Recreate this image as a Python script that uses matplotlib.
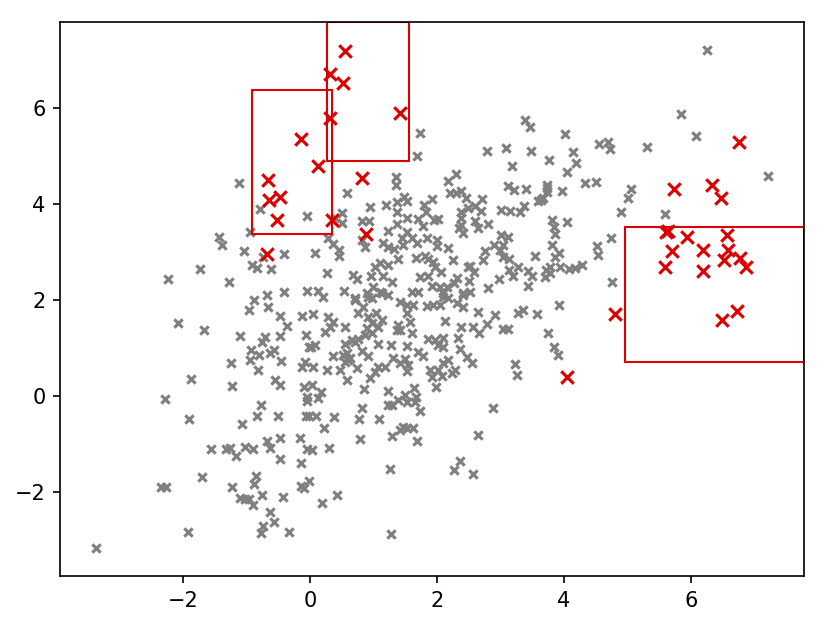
import matplotlib
matplotlib.use("Agg")
import matplotlib.pyplot as plt
from matplotlib.patches import Rectangle

gray_x = [
    -0.79, -0.05, -0.94, -1.43, -1.39, -1.04, -0.74, -0.41, -0.91, -0.83, -0.61, -1.73, -2.24, -1.28, -0.68, -0.41,
    -0.05, -0.88, -0.66, -0.96, -0.47, -0.13, -0.36, -2.08, -1.67, -1.10, -0.71, -0.76, -0.47, -0.06, -0.02, -0.93,
    -0.57, -0.63, -0.80, -0.94, -1.24, -0.46, -0.08, -0.13, -0.82, -1.87, -0.55, -0.47, -1.23, -0.09, -2.28, -0.05,
    -1.91, -0.77, -0.83, -0.50, -1.07, -0.05, -0.06, -0.02, -0.47, -0.68, -0.16, -1.56, -1.32, -1.26, -1.17, -1.02,
    -0.90, -0.63, -0.05, -0.47, -0.14, -1.70, -0.85, -0.88, -2.35, -2.27, -1.23, -0.14, -0.09, -0.02, -0.76, -0.43,
    -1.10, -1.02, -0.96, -0.90, -0.63, -0.57, -0.74, -0.77, -0.33, -1.92, -3.37,
    1.35, 1.35, 2.30, 2.17, 0.58, 2.20, 2.30, 2.38, 2.46, 1.48, 1.53, 1.37, 1.92, 1.20, 0.94, 1.80,
    1.83, 1.37, 0.50, 0.39, 0.50, 0.82, 0.93, 1.53, 1.70, 2.02, 1.95, 1.78, 1.37, 2.38, 2.38, 2.38,
    2.35, 2.41, 1.23, 1.53, 0.28, 0.36, 0.46, 0.46, 0.82, 0.87, 1.15, 1.23, 1.32, 1.45, 1.46, 1.61,
    1.69, 1.84, 2.00, 2.00, 2.17, 0.08, 1.39, 1.67, 1.81, 1.86, 1.94, 2.25, 1.97, 2.06, 1.10, 1.02,
    1.23, 0.27, 0.68, 0.74, 0.96, 1.15, 1.29, 1.73, 1.86, 2.31, 2.27, 2.49, 0.13, 0.20, 0.54, 0.99,
    0.90, 1.10, 1.61, 1.70, 1.92, 2.05, 2.16, 2.09, 2.41, 2.52, 0.71, 0.98,
    0.71, 0.83, 0.76, 0.91, 1.13, 1.23, 1.42, 1.53, 1.62, 1.53, 1.57, 1.84, 1.94, 2.05, 2.09, 2.17,
    2.31, 2.41, 2.41, 0.05, 0.28, 0.36, 0.31, 0.24, 0.55, 0.08, 0.02, 1.04, 0.91, 1.13, 0.98, 1.07,
    0.90, 0.98, 0.87, 0.76, 0.66, 0.71, 0.55, 1.07, 1.39, 1.42, 1.37, 1.61, 2.13, 2.38, 1.28, 1.53,
    1.86, 1.97, 2.09, 2.02, 2.09, 2.33, 2.36, 2.47, 1.70, 1.78, 0.82, 0.91, 1.31, 1.42, 1.50, 1.54,
    1.53, 0.58, 0.52, 0.63, 0.55, 0.60, 0.36, 0.05, 0.27, 0.47, 0.74, 1.18, 1.07, 1.02, 0.94, 0.58,
    1.89, 1.92, 2.17, 2.09, 2.02, 2.08, 2.28, 2.24, 0.03, 0.17, 0.13, 0.85, 1.23, 1.64, 1.98, 1.50,
    1.67, 1.39, 1.53, 1.65, 1.23, 1.29, 0.82, 1.73, 0.09, 0.38, 0.77, 1.09,
    0.22, 0.79, 1.29, 1.42, 1.46, 1.53, 1.62, 1.69, 2.65, 2.88, 0.03, 0.30, 1.26, 2.36, 2.27, 2.57,
    0.43, 0.19, 1.28,
    3.39, 3.46, 4.02, 2.79, 3.09, 3.48, 4.14, 3.76, 4.19, 3.18, 4.05, 4.55, 4.69, 4.72, 5.31, 4.33,
    4.50, 5.06, 5.01, 4.90, 3.12, 3.21, 3.40, 3.73, 3.73, 3.73, 3.97, 3.64, 3.59, 3.67, 2.71, 2.49,
    2.60, 2.69, 3.01, 3.15, 3.37, 3.31, 3.81, 4.05, 2.80, 2.60, 2.65, 3.84, 3.86, 3.01, 3.12, 3.81,
    4.74, 4.52, 4.54, 2.90, 3.04, 2.76, 2.99, 3.04, 3.13, 2.72, 3.54, 3.92, 3.86, 2.52, 2.58, 2.50,
    3.28, 3.13, 3.20, 2.98, 3.43, 3.50, 3.43, 2.80, 3.72, 3.78, 3.70, 3.78, 3.94, 4.08, 4.17, 4.28,
    4.76,
    3.92, 2.65, 2.91, 3.28, 3.35, 3.57, 2.57, 2.79, 2.66, 3.04, 3.12, 3.75, 3.84, 3.91, 2.55, 3.23,
    3.26,
    6.25, 5.84, 6.08, 7.21, 5.59, 1.73, 1.69, -1.12,
]
gray_y = [
    3.89, 3.74, 3.41, 3.31, 3.14, 3.01, 2.89, 2.95, 2.72, 2.66, 2.64, 2.64, 2.43, 2.37, 2.10, 2.16,
    2.18, 2.00, 1.85, 1.79, 1.66, 1.66, 1.46, 1.52, 1.37, 1.25, 1.23, 1.12, 1.25, 1.27, 1.02, 0.96,
    0.96, 0.89, 0.85, 0.75, 0.69, 0.73, 0.71, 0.60, 0.54, 0.35, 0.33, 0.23, 0.21, 0.19, -0.06, -0.02,
    -0.48, -0.19, -0.42, -0.42, -0.58, -0.10, -0.42, -0.42, -0.87, -0.94, -0.87, -1.10, -1.10, -1.08, -1.25, -1.06,
    -1.10, -1.08, -1.10, -1.31, -1.39, -1.68, -1.66, -1.83, -1.89, -1.89, -1.89, -1.87, -1.91, -1.77, -2.06, -2.10,
    -2.12, -2.14, -2.14, -2.27, -2.41, -2.62, -2.70, -2.85, -2.83, -2.83, -3.16,
    4.55, 4.39, 4.62, 4.47, 4.22, 4.22, 4.22, 4.26, 4.12, 4.14, 4.05, 4.03, 4.10, 3.97, 3.93, 3.97,
    3.83, 3.83, 3.80, 3.70, 3.60, 3.64, 3.64, 3.70, 3.68, 3.68, 3.66, 3.53, 3.58, 3.83, 3.70, 3.56,
    3.49, 3.39, 3.43, 3.41, 3.28, 3.16, 3.04, 2.91, 3.24, 3.10, 3.18, 3.10, 3.06, 3.28, 3.14, 3.28,
    3.18, 3.28, 3.24, 3.12, 3.08, 2.97, 2.85, 2.87, 2.91, 2.85, 2.79, 2.83, 2.68, 2.58, 2.77, 2.68,
    2.72, 2.56, 2.52, 2.43, 2.49, 2.49, 2.37, 2.47, 2.49, 2.45, 2.35, 2.68, 2.18, 2.06, 2.18, 2.27,
    2.14, 2.16, 2.16, 2.16, 2.29, 2.27, 2.27, 2.14, 2.14, 2.16, 2.04, 2.04,
    2.00, 1.85, 1.73, 2.06, 2.14, 2.10, 1.95, 1.89, 1.89, 1.73, 1.54, 1.87, 1.89, 1.89, 2.06, 2.04,
    1.93, 1.85, 2.10, 1.70, 1.64, 1.54, 1.43, 1.33, 1.43, 1.06, 1.02, 1.73, 1.64, 1.58, 1.52, 1.43,
    1.41, 1.31, 1.27, 1.19, 1.16, 1.12, 1.08, 1.08, 1.48, 1.37, 1.37, 1.31, 1.56, 1.43, 1.06, 1.04,
    1.19, 1.16, 1.21, 1.06, 1.02, 1.21, 0.98, 0.81, 0.91, 0.83, 0.94, 0.83, 0.79, 0.69, 0.77, 0.64,
    0.52, 0.89, 0.85, 0.79, 0.71, 0.75, 0.83, 0.60, 0.54, 0.54, 0.58, 0.60, 0.60, 0.50, 0.37, 0.33,
    0.54, 0.40, 0.75, 0.69, 0.54, 0.42, 0.54, 0.48, 0.23, 0.08, -0.04, 0.15, 0.10, 0.17, 0.19, 0.02,
    -0.02, -0.08, -0.12, -0.12, -0.19, -0.19, -0.25, -0.31, -0.42, -0.44, -0.48, -0.48,
    -0.67, -0.89, -0.83, -0.71, -0.64, -0.67, -0.67, -0.94, -0.81, -0.25, -1.12, -1.08, -1.52, -1.35, -1.54, -1.62,
    -2.06, -2.22, -2.87,
    5.74, 5.59, 5.45, 5.09, 5.16, 5.09, 5.07, 4.91, 4.84, 4.78, 4.66, 5.24, 5.28, 5.14, 5.18, 4.43,
    4.45, 4.30, 4.12, 3.83, 4.37, 4.28, 4.30, 4.39, 4.24, 4.32, 4.26, 4.08, 4.05, 4.12, 4.10, 3.91,
    3.95, 3.85, 3.87, 3.85, 3.95, 3.83, 3.66, 3.62, 3.58, 3.64, 3.49, 3.51, 3.37, 3.35, 3.31, 3.14,
    3.28, 3.12, 2.93, 3.14, 3.14, 3.01, 3.04, 2.89, 2.85, 2.83, 2.91, 2.97, 2.89, 2.70, 2.58, 2.39,
    2.68, 2.62, 2.49, 2.43, 2.60, 2.49, 2.29, 2.25, 2.62, 2.68, 2.47, 2.56, 2.68, 2.64, 2.66, 2.72,
    2.37,
    1.89, 1.75, 1.68, 1.73, 1.79, 1.70, 1.43, 1.50, 1.31, 1.39, 1.39, 1.31, 1.02, 0.85, 0.69, 0.67,
    0.44,
    7.19, 5.86, 5.41, 4.57, 3.78, 5.47, 4.99, 4.43,
]

red_x = [
    6.76, 5.73, 6.33, 6.47, 5.64, 5.61, 5.94, 6.57, 5.70, 6.19, 6.58, 6.52, 6.77, 6.87, 5.59, 6.19,
    6.72, 6.49, 4.80, 4.05, 0.55, 0.31, 0.52, 0.31, 1.42, -0.14, 0.13, 0.82, -0.66, -0.65, -0.47, -0.52,
    0.35, 0.88, -0.68,
]
red_y = [
    5.28, 4.30, 4.39, 4.12, 3.43, 3.41, 3.31, 3.35, 3.01, 3.04, 3.04, 2.83, 2.87, 2.68, 2.68, 2.60,
    1.77, 1.58, 1.70, 0.40, 7.17, 6.69, 6.51, 5.78, 5.88, 5.34, 4.78, 4.53, 4.49, 4.07, 4.14, 3.66,
    3.66, 3.37, 2.95,
]

# boxes as (x0, y0, x1, y1)
boxes = [
    (-0.91, 3.38, 0.35, 6.37),
    (0.27, 4.88, 1.56, 7.78),
    (4.96, 0.71, 7.78, 3.51),
]

RED = "#dc0000"

fig = plt.figure(figsize=(826.01 / 150, 626.01 / 150), dpi=150)
ax = fig.add_axes([60 / 826, 50 / 626, 744 / 826, 554 / 626])

ax.scatter(gray_x, gray_y, marker="x", s=16, color="gray")
ax.scatter(red_x, red_y, marker="x", s=36, color=RED)

for x0, y0, x1, y1 in boxes:
    ax.add_patch(Rectangle((x0, y0), x1 - x0, y1 - y0, fill=False, edgecolor=RED, linewidth=1))

ax.set_xlim(-3.94, 7.78)
ax.set_ylim(-3.74, 7.78)
ax.set_xticks([-2, 0, 2, 4, 6])
ax.set_yticks([-2, 0, 2, 4, 6])

fig.savefig("out.png", dpi=150)
